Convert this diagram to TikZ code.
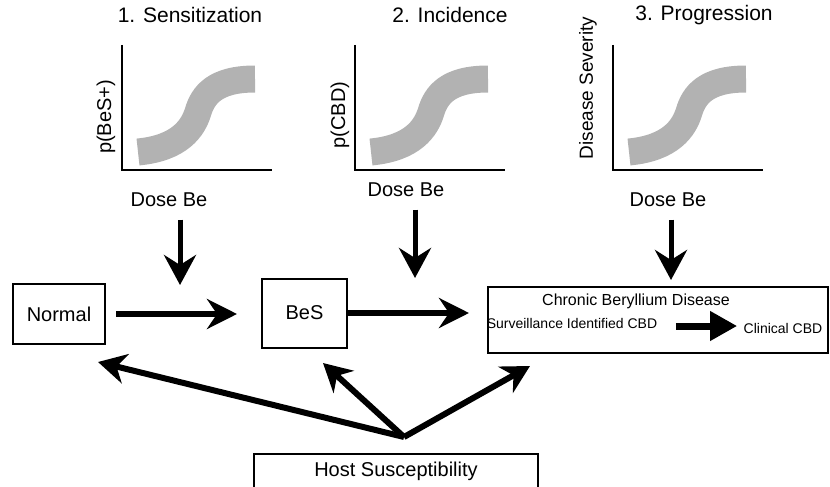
\documentclass[tikz,border=0pt]{standalone}
\usepackage{fontspec}
\setmainfont{Liberation Sans}
\usetikzlibrary{arrows.meta}

\begin{document}
\begin{tikzpicture}[x=1pt,y=-1pt,
  big/.style={font=\fontsize{20}{24}\selectfont},
  headline/.style={font=\fontsize{21}{25}\selectfont},
  small/.style={font=\fontsize{14}{17}\selectfont},
  box/.style={draw,line width=2pt,inner sep=0pt},
  axis/.style={line width=2pt},
  band/.style={line width=27pt,color=black!30},
  flow/.style={line width=6pt,-{Stealth[length=30pt,width=30pt,inset=10pt]}},
  dose/.style={line width=5pt,-{Stealth[length=30pt,width=32pt,inset=10pt]},shorten <=9pt},
  host arrow/.style={line width=6pt,-{Stealth[length=28pt,width=30pt,inset=9pt]}},
  substep/.style={line width=7pt,-{Triangle[length=27pt,width=28pt]}}]

\useasboundingbox (0,0) rectangle (830,487);
\clip (0,0) rectangle (830,487);

\def\gax{122} \def\gbx{355} \def\gcx{613}
\def\axtop{45} \def\axbot{170}

\node [headline] (title1) at (190,15) {1. Sensitization};
\node [headline] (title2) at (450,15) {2. Incidence};
\node [headline] (title3) at (704,15) {3. Progression};

\foreach \ox in {\gax,\gbx,\gcx} {
  \draw [band] (\ox+16,152) .. controls (\ox+58,148) and (\ox+71,128) .. (\ox+76,112)
    .. controls (\ox+81,95) and (\ox+93,79) .. (\ox+133,79);
  \draw [axis] (\ox,\axtop) -- (\ox,\axbot) -- (\ox+150,\axbot);
}

\node [big,rotate=90] (ylab1) at (106,117) {p(BeS+)};
\node [big,rotate=90] (ylab2) at (340,115) {p(CBD)};
\node [font=\fontsize{19}{23}\selectfont,rotate=90] (ylab3) at (588,88) {Disease Severity};

\node [big] (dose1) at (169,200) {Dose Be};
\node [big] (dose2) at (406,190) {Dose Be};
\node [big] (dose3) at (668,200) {Dose Be};

\coordinate (hit1) at (180,285);
\coordinate (hit2) at (415,278);
\coordinate (hit3) at (671,280);

\draw [dose] (dose1.south -| hit1) -- (hit1);
\draw [dose] (dose2.south -| hit2) -- (hit2);
\draw [dose] (dose3.south -| hit3) -- (hit3);

\node [box,big,minimum width=92pt,minimum height=60pt] (normal) at (59,314) {Normal};
\node [box,big,minimum width=85pt,minimum height=69pt] (bes) at (304.5,313) {BeS};
\node [box,minimum width=340pt,minimum height=66pt] (cbd) at (658,320) {};

\node [font=\fontsize{16}{19}\selectfont] (cbdtitle) at (636,301) {Chronic Beryllium Disease};
\node [small] (surv) at (572,323) {Surveillance Identified CBD};
\node [small] (clin) at (783,328) {Clinical CBD};

\draw [flow,shorten <=10pt,shorten >=24pt] (normal.east) -- (normal.east -| bes.west);
\draw [flow,shorten >=18pt] (bes.east) -- (bes.east -| cbd.west);
\draw [substep,shorten <=15pt,shorten >=3pt] (surv.east |- 0,326) -- (clin.west |- 0,326);

\node [box,big,anchor=north,minimum width=284pt,inner ysep=8pt,text height=14.6pt,text depth=20pt] (host) at (396,453) {Host Susceptibility};

\coordinate (hub) at (404,437);
\coordinate (toNormal) at (98,362);
\coordinate (toBes) at (323,363);
\coordinate (toCbd) at (530,366);

\draw [host arrow] (hub) -- (toNormal);
\draw [host arrow] (hub) -- (toBes);
\draw [host arrow] (hub) -- (toCbd);
\end{tikzpicture}
\end{document}
